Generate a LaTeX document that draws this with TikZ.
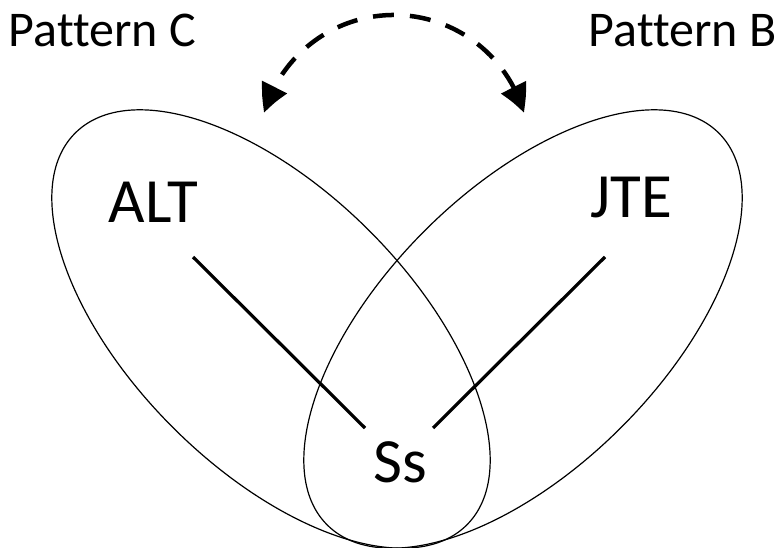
\documentclass[tikz,border=0pt]{standalone}
\usepackage{fontspec}
\setmainfont{Carlito}[Ligatures=CommonOff]
\usetikzlibrary{arrows.meta,bending}
\tikzset{
  venn/.style={line width=1.2pt, black},
  conn/.style={line width=3.2pt, black},
  swap/.style={line width=4.5pt, dash pattern=on 21pt off 16pt,
    {Triangle[length=28pt,width=27pt,bend]}-{Triangle[length=28pt,width=27pt,bend]}},
  patlabel/.style={anchor=base, inner sep=0pt, font=\fontsize{50}{60}\selectfont},
  role/.style={anchor=base, inner sep=0pt, font=\fontsize{63}{75}\selectfont}
}
\begin{document}
\begin{tikzpicture}[x=1pt,y=1pt]
\useasboundingbox (0,0) rectangle (781,547);
% ellipses
\draw[venn, rotate around={-45:(271,218)}] (271,218) ellipse [x radius=277pt, y radius=139pt];
\draw[venn, rotate around={45:(523,218)}] (523,218) ellipse [x radius=277pt, y radius=139pt];
% labels
\node[patlabel] (pc) at (102.5,500) {Pattern C};
\node[patlabel] (pb) at (682.5,500) {Pattern B};
\node[role] (alt) at (153.5,325) {ALT};
\node[role] (jte) at (631,330) {JTE};
\node[role] (ss) at (400.5,65) {Ss};
% connector ends
\coordinate (a1) at (193,290);
\coordinate (a2) at (365,119);
\coordinate (j1) at (605,290);
\coordinate (j2) at (433,119);
\draw[conn] (a1) -- (a2);
\draw[conn] (j1) -- (j2);
% swap arrow
\coordinate (arcC) at (394,397);
\coordinate (arcR) at ([shift={(16:135pt)}]arcC);
\draw[swap] (arcR) arc[start angle=16, end angle=164, radius=135pt];
\end{tikzpicture}
\end{document}
